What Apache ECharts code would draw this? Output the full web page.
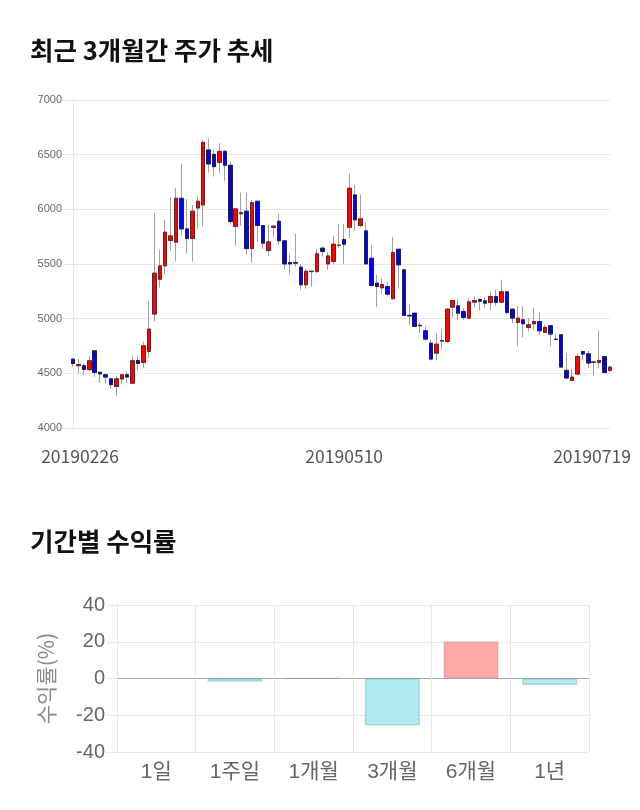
<!DOCTYPE html>
<html>
<head>
<meta charset="utf-8">
<script src="https://cdn.jsdelivr.net/npm/echarts@6/dist/echarts.min.js"></script>
<style>
html,body{margin:0;padding:0;background:#fff;}
#main{width:640px;height:810px;}
</style>
</head>
<body>
<div id="main"></div>
<script>
var dates = [
'20190226','20190227','20190228',
'20190304','20190305','20190306','20190307','20190308','20190311','20190312','20190313','20190314','20190315',
'20190318','20190319','20190320','20190321','20190322','20190325','20190326','20190327','20190328','20190329',
'20190401','20190402','20190403','20190404','20190405','20190408','20190409','20190410','20190411','20190412',
'20190415','20190416','20190417','20190418','20190419','20190422','20190423','20190424','20190425','20190426',
'20190429','20190430',
'20190502','20190503','20190507','20190508','20190509','20190510','20190513','20190514','20190515','20190516',
'20190517','20190520','20190521','20190522','20190523','20190524','20190527','20190528','20190529','20190530','20190531',
'20190603','20190604','20190605','20190607','20190610','20190611','20190612','20190613','20190614',
'20190617','20190618','20190619','20190620','20190621','20190624','20190625','20190626','20190627','20190628',
'20190701','20190702','20190703','20190704','20190705','20190708','20190709','20190710','20190711','20190712',
'20190715','20190716','20190717','20190718','20190719'
];
var opens = [4630,4570,4570,4533,4706,4510,4487,4450,4380,4448,4487,4410,4618,4600,4700,5042,5361,5483,5715,5700,
6101,5821,5733,6013,6040,6543,6503,6430,6530,6403,5843,5960,5983,5641,6074,5852,5623,5834,5891,5712,
5514,5514,5471,5310,5430,5431,5645,5501,5523,5670,5724,5836,6132,5852,5803,5553,5325,5282,5294,5182,
5635,5447,5030,5050,4940,4889,4776,4685,4795,4792,5105,5117,5066,5005,5151,5175,5163,5148,5203,5151,
5246,5087,4965,4990,4920,4953,4974,4874,4935,4813,4853,4527,4435,4493,4700,4679,4600,4600,4654,4527];
var closes = [4590,4580,4535,4615,4508,4495,4466,4396,4450,4487,4466,4615,4590,4752,4904,5416,5483,5791,5757,6101,
5821,5733,5983,6074,6613,6415,6390,6530,6403,5888,6004,5970,5641,6062,5852,5690,5702,5846,5712,5501,
5501,5508,5310,5434,5434,5593,5614,5574,5681,5672,5681,6193,5903,5913,5501,5303,5294,5312,5224,5605,
5492,5029,5025,4929,4935,4813,4630,4767,4800,5087,5166,5050,5011,5154,5166,5160,5142,5203,5148,5246,
5057,5005,5005,4953,4944,4974,4889,4920,4859,4810,4557,4457,4466,4654,4676,4594,4605,4618,4508,4557];
var lows = [4560,4500,4480,4520,4470,4410,4410,4360,4295,4405,4410,4410,4530,4550,4640,4975,5285,5407,5620,5523,
5760,5593,5523,5818,5845,6336,6300,6330,6263,5858,5666,5849,5584,5514,5706,5636,5574,5742,5675,5453,
5407,5477,5264,5273,5294,5416,5568,5447,5501,5645,5501,5733,5803,5836,5501,5294,5105,5227,5203,5182,
5273,5029,4944,4923,4868,4800,4618,4618,4721,4776,5011,4987,4990,4996,5105,5075,5096,5081,5117,5151,
5035,4959,4752,4830,4883,4898,4852,4874,4752,4800,4557,4450,4435,4493,4618,4548,4481,4548,4496,4510];
var highs = [4640,4630,4590,4660,4710,4510,4500,4455,4478,4490,4518,4655,4660,4790,5166,5965,5630,5903,6110,6193,
6415,6095,6040,6117,6634,6650,6543,6604,6543,6436,6010,6153,6153,6086,6074,5858,5858,5858,5955,5721,
5593,5775,5501,5453,5440,5635,5660,5605,5757,5864,5864,6324,6223,6132,5882,5675,5401,5370,5340,5745,
5635,5453,5127,5056,4968,4929,4807,4862,4904,5096,5172,5181,5096,5187,5203,5187,5197,5249,5264,5355,
5246,5096,5117,5117,5005,5096,5056,4944,4944,4868,4853,4685,4539,4685,4706,4706,4605,4892,4654,4570];
var priceTicks = [4000,4500,5000,5500,6000,6500,7000];
var labelDates = ['20190226','20190510','20190719'];

var periods = ['1일','1주일','1개월','3개월','6개월','1년'];
var returns = [0,-1.8,0.3,-25.6,20.3,-3.5];
var returnTicks = [-40,-20,0,20,40];

var ohlc = [], bodies = [];
for (var i = 0; i < dates.length; i++) {
  ohlc.push([opens[i], closes[i], lows[i], highs[i]]);
  bodies.push([opens[i], closes[i], Math.min(opens[i], closes[i]), Math.max(opens[i], closes[i])]);
}

var chart = echarts.init(document.getElementById('main'), null, {renderer: 'canvas'});
var gridColor = '#e8e8e8';
var option = {
  animation: false,
  backgroundColor: '#fff',
  title: [
    {text: '최근 3개월간 주가 추세', left: 25, top: 33,
     textStyle: {fontSize: 25.5, fontWeight: 'bold', color: '#111', fontFamily: 'Noto Sans CJK KR'}},
    {text: '기간별 수익률', left: 25, top: 524,
     textStyle: {fontSize: 25.5, fontWeight: 'bold', color: '#111', fontFamily: 'Noto Sans CJK KR'}}
  ],
  grid: [
    {left: 73, top: 100, width: 537, height: 328},
    {left: 117, top: 605, width: 472, height: 147}
  ],
  xAxis: [
    {
      gridIndex: 0, type: 'category', data: dates, boundaryGap: false,
      axisLine: {show: false}, axisTick: {show: false}, splitLine: {show: false},
      axisLabel: {
        interval: function (idx, val) { return labelDates.indexOf(val) >= 0; },
        margin: 20, fontSize: 17.5, color: '#555', fontFamily: 'Noto Sans CJK KR',
        formatter: function (val) {
          if (val === labelDates[0]) return '{f|' + val + '}';
          if (val === labelDates[2]) return '{l|' + val + '}';
          return val;
        },
        rich: {
          f: {padding: [0, 0, 0, 14], fontSize: 17.5, color: '#555', fontFamily: 'Noto Sans CJK KR'},
          l: {padding: [0, 36, 0, 0], fontSize: 17.5, color: '#555', fontFamily: 'Noto Sans CJK KR'}
        }
      }
    },
    {
      gridIndex: 1, type: 'category', data: periods, boundaryGap: true,
      axisLine: {show: false},
      axisTick: {show: true, length: 10, interval: 0, lineStyle: {color: gridColor}},
      splitLine: {show: true, interval: 0, lineStyle: {color: gridColor}},
      axisLabel: {margin: 10, fontSize: 21, color: '#666', fontFamily: 'Liberation Sans, Noto Sans CJK KR'}
    }
  ],
  yAxis: [
    {
      gridIndex: 0, type: 'value', min: priceTicks[0], max: priceTicks[priceTicks.length - 1], interval: 500,
      axisLine: {show: true, lineStyle: {color: gridColor}},
      axisTick: {show: true, length: 10, lineStyle: {color: gridColor}},
      splitLine: {show: true, lineStyle: {color: gridColor}},
      axisLabel: {margin: 11, fontSize: 11, color: '#666', fontFamily: 'Liberation Sans',
        formatter: function (v) { return String(v); }}
    },
    {
      gridIndex: 1, type: 'value', min: returnTicks[0], max: returnTicks[returnTicks.length - 1], interval: 20,
      name: '수익률(%)', nameLocation: 'middle', nameGap: 60,
      nameTextStyle: {fontSize: 21, color: '#888', fontFamily: 'Noto Sans CJK KR'},
      axisLine: {show: true, lineStyle: {color: gridColor}},
      axisTick: {show: true, length: 10, lineStyle: {color: gridColor}},
      splitLine: {show: true, lineStyle: {color: [gridColor, gridColor, '#aaa', gridColor, gridColor]}},
      axisLabel: {margin: 12, fontSize: 20, color: '#666', fontFamily: 'Liberation Sans',
        formatter: function (v) { return String(v); }}
    }
  ],
  series: [
    {
      type: 'candlestick', xAxisIndex: 0, yAxisIndex: 0, data: ohlc, barWidth: 4,
      itemStyle: {color: '#ff0000', color0: '#0000ff', borderColor: '#a0a0a0', borderColor0: '#a0a0a0', borderWidth: 1}
    },
    {
      type: 'candlestick', xAxisIndex: 0, yAxisIndex: 0, data: bodies, barWidth: 4,
      itemStyle: {color: '#ff0000', color0: '#0000ff', borderColor: '#6a2020', borderColor0: '#202050', borderWidth: 1}
    },
    {
      type: 'bar', xAxisIndex: 1, yAxisIndex: 1, barWidth: '70%',
      data: returns.map(function (v) {
        return {value: v, itemStyle: {
          color: v >= 0 ? '#ffa8a8' : '#b2ebf2',
          borderColor: v >= 0 ? 'rgba(200,120,120,0.35)' : 'rgba(80,160,170,0.35)',
          borderWidth: v === 0 ? 0 : 1.5
        }};
      })
    }
  ]
};
chart.setOption(option);
</script>
</body>
</html>
